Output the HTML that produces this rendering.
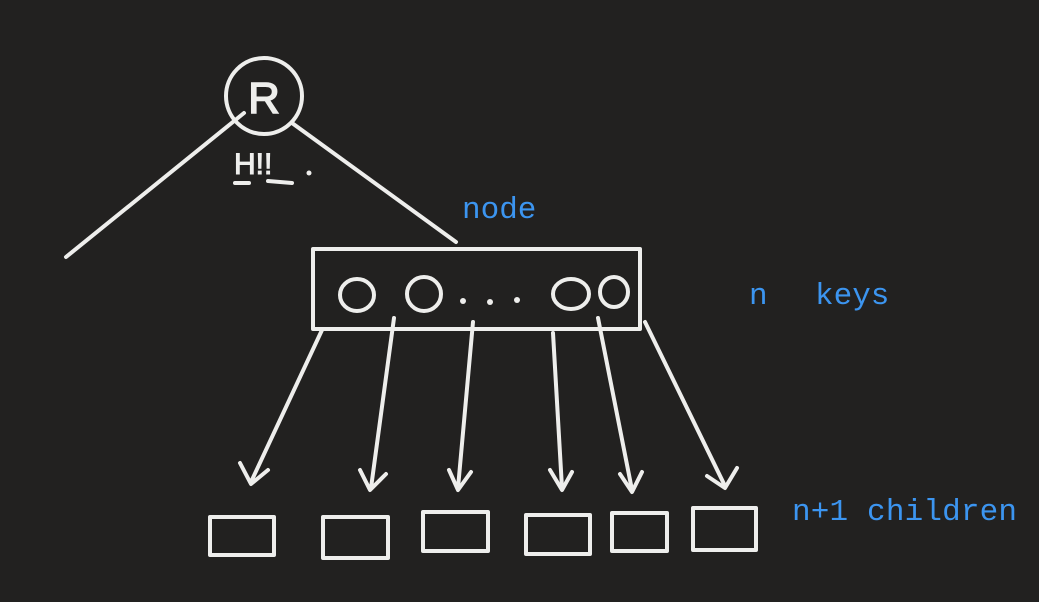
<!DOCTYPE html>
<html><head><meta charset="utf-8"><style>
html,body{margin:0;padding:0;background:#222120;width:1039px;height:602px;overflow:hidden}
svg{display:block}
</style></head><body>
<svg width="1039" height="602" viewBox="0 0 1039 602" xmlns="http://www.w3.org/2000/svg">
<g fill="none" stroke="#eeeeec" stroke-width="4" stroke-linecap="round" stroke-linejoin="round">
<circle cx="264" cy="96" r="38"/>
<line x1="244" y1="113" x2="66" y2="257"/>
<line x1="292" y1="123" x2="456" y2="242"/>
<rect x="313" y="249" width="327" height="80"/>
<ellipse cx="357" cy="295" rx="17" ry="16"/>
<ellipse cx="424" cy="294" rx="17" ry="17"/>
<ellipse cx="571" cy="294" rx="18" ry="15"/>
<ellipse cx="614" cy="292" rx="14" ry="15"/>
<line x1="322" y1="330" x2="251" y2="482"/><polyline points="240,463 251,484 268,470"/>
<line x1="394" y1="318" x2="371" y2="488"/><polyline points="360,470 370,490 386,474"/>
<line x1="473" y1="322" x2="458" y2="488"/><polyline points="449,470 458,490 471,472"/>
<line x1="553" y1="333" x2="562" y2="488"/><polyline points="550,470 562,490 572,472"/>
<line x1="598" y1="318" x2="632" y2="490"/><polyline points="620,474 632,492 642,472"/>
<line x1="645" y1="322" x2="725" y2="486"/><polyline points="707,476 725,488 737,468"/>
<rect x="210" y="517" width="64" height="38"/>
<rect x="323" y="517" width="65" height="41"/>
<rect x="423" y="512" width="65" height="39"/>
<rect x="526" y="515" width="64" height="39"/>
<rect x="612" y="513" width="55" height="38"/>
<rect x="693" y="508" width="63" height="42"/>
<line x1="235" y1="183" x2="249" y2="183"/><line x1="268" y1="181" x2="292" y2="183"/>
</g>
<g fill="#eeeeec">
<circle cx="463" cy="301" r="3"/><circle cx="490" cy="302" r="3"/><circle cx="517" cy="300" r="3"/>
<circle cx="309" cy="173" r="2.5"/>
</g>
<text x="264" y="113" font-family="Liberation Sans, sans-serif" font-size="44" fill="#eeeeec" stroke="#eeeeec" stroke-width="1.5" text-anchor="middle">R</text>
<text x="234" y="174" font-family="Liberation Sans, sans-serif" font-size="30" fill="#eeeeec" stroke="#eeeeec" stroke-width="1">H!!</text>
<g font-family="Liberation Mono, monospace" font-size="31" fill="#3c95f0">
<text x="462" y="218">node</text>
<text x="749" y="304">n</text>
<text x="815" y="304">keys</text>
<text x="792" y="520" textLength="225">n+1 children</text>
</g>
</svg>
</body></html>
